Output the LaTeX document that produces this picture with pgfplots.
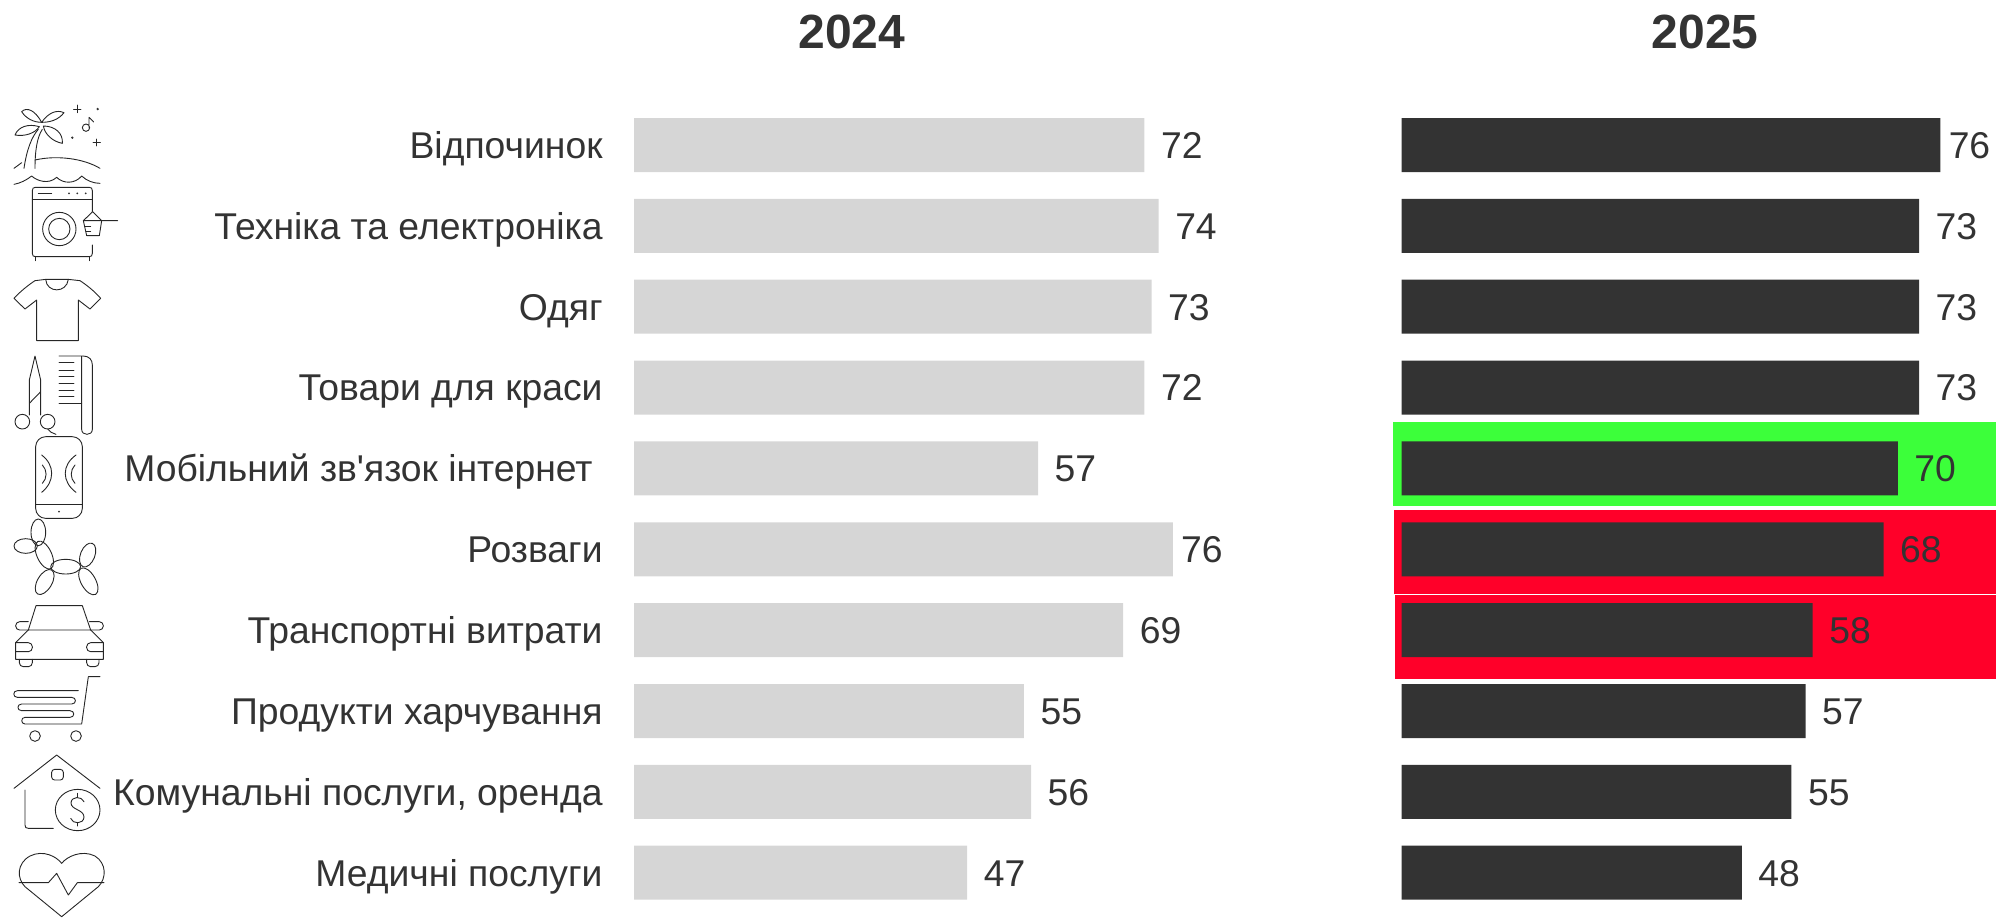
\documentclass[border=0pt]{standalone}
\usepackage{fontspec}
\setmainfont{Liberation Sans}
\newfontfamily\plainquote{Liberation Sans}
\usepackage{pgfplots}
\usepackage{pgfplotstable}
\pgfplotsset{compat=1.18}
\definecolor{ink}{HTML}{333333}
\definecolor{barA}{HTML}{D6D6D6}
\definecolor{hlgreen}{HTML}{3CFF3A}
\definecolor{hlred}{HTML}{FF0029}
\pgfplotstableread{
row y2024 y2025 dxa dxb
1 72 76 8.1 4
2 74 73 8.1 8.1
3 73 73 8.1 8.1
4 72 73 8.1 8.1
5 57 70 8.1 8.1
6 76 68 4 8.1
7 69 58 8.1 8.1
8 55 57 8.1 8.1
9 56 55 8.1 8.1
10 47 48 8.1 8.1
}\data
\pgfplotsset{
  base/.style={
    scale only axis, width=297.78pt, height=404.25pt,
    xmin=0, xmax=84, ymin=0.5, ymax=10.5, y dir=reverse,
    enlargelimits=false, clip=false,
    axis line style={draw=none}, tick style={draw=none}, major tick length=0pt,
    xtick=\empty,
    xbar, bar width=27pt,
    /pgf/number format/assume math mode=true,
    title style={font=\fontsize{24}{28}\selectfont\bfseries, text=ink, anchor=center, inner sep=0pt},
  },
}
\newcommand\balloon[6]{\draw (#1+#3,#2+#4) .. controls (#1+#3+.5523*#5,#2+#4+.5523*#6) and (#1+#5+.5523*#3,#2+#6+.5523*#4) .. (#1+#5,#2+#6) .. controls (#1+#5-.5523*#3,#2+#6-.5523*#4) and (#1-#3+.5523*#5,#2-#4+.5523*#6) .. (#1-#3,#2-#4) .. controls (#1-#3-.5523*#5,#2-#4-.5523*#6) and (#1-#5-.5523*#3,#2-#6-.5523*#4) .. (#1-#5,#2-#6) .. controls (#1-#5+.5523*#3,#2-#6+.5523*#4) and (#1+#3-.5523*#5,#2+#4-.5523*#6) .. (#1+#3,#2+#4) -- cycle;}
\begin{document}
\begin{tikzpicture}[line cap=round, line join=round]
\useasboundingbox (0,0) rectangle (998pt,-458.5pt);
\clip (0,0) rectangle (998pt,-458.5pt);
% highlights behind the 2025 bars
\fill[hlgreen] (696.5pt,-211pt) rectangle (998pt,-253pt);
\fill[hlred] (697pt,-255pt) rectangle (998pt,-296.8pt);
\fill[hlred] (697.5pt,-297.5pt) rectangle (998pt,-339.5pt);

\begin{axis}[base, at={(317pt,-456.55pt)}, anchor=south west,
  title={2024}, title style={at={(0.366,1.0746)}},
  ytick={1,...,10},
  yticklabels={Відпочинок,Техніка та електроніка,Одяг,Товари для краси,{Мобільний зв{\plainquote\char39}язок інтернет\hspace{5pt}\mbox{}},Розваги,Транспортні витрати,Продукти харчування,{Комунальні послуги, оренда},Медичні послуги},
  y tick label style={font=\fontsize{18.65}{22}\selectfont, text=ink, anchor=east, inner sep=0pt, xshift=-15.5pt, text height=13.3pt, text depth=0pt},
]
\addplot[draw=none, fill=barA, bar shift=0pt,
  nodes near coords,
  visualization depends on={\thisrow{dxa} \as \dx},
  every node near coord/.append style={font=\fontsize{18.65}{22}\selectfont, text=ink, anchor=west, inner sep=0pt, xshift=\dx pt, text height=13.3pt, text depth=0pt},
] table[x=y2024,y=row] {\data};
\end{axis}

\begin{axis}[base, at={(700.75pt,-456.55pt)}, anchor=south west,
  title={2025}, title style={at={(0.51,1.0746)}},
  ytick=\empty,
]
\addplot[draw=none, fill=ink, bar shift=0pt,
  nodes near coords,
  visualization depends on={\thisrow{dxb} \as \dx},
  every node near coord/.append style={font=\fontsize{18.65}{22}\selectfont, text=ink, anchor=west, inner sep=0pt, xshift=\dx pt, text height=13.3pt, text depth=0pt},
] table[x=y2025,y=row] {\data};
\end{axis}

% icons
\begin{scope}[shift={(0,-45pt)}, x=0.16667pt, y=-0.16667pt, draw=black!85, line width=0.45pt]
% palm
\draw (72,235) .. controls (80,180) and (95,140) .. (115,118);
\draw (105,235) .. controls (105,180) and (112,140) .. (127,118);
\draw (125,97) .. controls (105,60) and (80,50) .. (65,65) .. controls (78,85) and (100,97) .. (125,97);
\draw (125,97) .. controls (145,68) and (170,58) .. (192,68) .. controls (175,90) and (150,97) .. (125,97);
\draw (118,110) .. controls (85,100) and (55,110) .. (45,135) .. controls (75,140) and (105,130) .. (118,110);
\draw (130,108) .. controls (165,108) and (190,130) .. (187,160) .. controls (160,155) and (135,135) .. (130,108);
\draw (105,210) .. controls (170,195) and (250,205) .. (300,235);
\draw (42,235) -- (65,218);
\draw (42,283) .. controls (60,280) and (80,270) .. (95,258) .. controls (110,272) and (145,285) .. (170,262) .. controls (190,282) and (225,282) .. (245,258) .. controls (260,272) and (280,280) .. (300,280);
\draw (232,45) -- (232,68) (221,57) -- (243,57);
\draw (290,147) -- (290,168) (279,157) -- (301,157);
\fill[ink] (293,57) circle (4) (217,143) circle (4);
\draw (258,113) circle (11) (267,112) -- (267,82) -- (281,96);
% washer
\draw (277,365) -- (277,302) .. controls (277,295) and (274,292) .. (268,292) -- (106,292) .. controls (100,292) and (97,295) .. (97,302) -- (97,490) .. controls (97,497) and (100,500) .. (106,500) -- (268,500) .. controls (274,500) and (277,497) .. (277,490) -- (277,465);
\draw (97,328) -- (277,328) (115,310) -- (155,310);
\fill[ink] (207,310) circle (3) (232,310) circle (3) (257,310) circle (3);
\draw (178,417) circle (50) (178,417) circle (32);
\draw (105,500) -- (105,512) (268,500) -- (268,512);
\draw (250,392) -- (305,392) -- (298,437) -- (260,437) -- cycle;
\draw (250,392) -- (278,365) -- (305,392) (305,392) -- (353,392);
\draw (255,410) -- (272,410) (258,425) -- (272,425);
% t-shirt
\draw (137,568) -- (105,572) .. controls (85,585) and (60,605) .. (42,625) -- (75,657) -- (110,630) -- (110,752) -- (235,752) -- (235,630) -- (270,657) -- (302,625) .. controls (285,605) and (260,585) .. (240,572) -- (205,568);
\draw (137,568) .. controls (140,610) and (200,610) .. (205,568) (137,568) -- (205,568);
% scissors and comb
\draw (88,975) -- (88,870) -- (105,798) -- (122,870) -- (122,975);
\draw (88,940) -- (122,905);
\draw (67,995) circle (22) (143,995) circle (22);
\draw (143,1017) .. controls (148,1025) and (158,1030) .. (168,1033);
\draw (177,798) -- (250,798) .. controls (268,798) and (277,810) .. (277,825) -- (277,1018) .. controls (277,1038) and (245,1038) .. (245,1018) -- (245,800);
\draw (177,818) -- (222,818) (177,840) -- (222,840) (177,860) -- (222,860) (177,880) -- (222,880) (177,900) -- (222,900) (177,920) -- (222,920) (177,940) -- (245,940);
% phone
\draw[rounded corners=5pt] (107,1040) rectangle (247,1285);
\draw (107,1243) -- (247,1243);
\fill[ink] (177,1265) circle (3);
\draw (125,1095) .. controls (165,1125) and (165,1175) .. (125,1207);
\draw (127,1125) .. controls (142,1140) and (142,1165) .. (127,1180);
\draw (228,1095) .. controls (185,1125) and (185,1175) .. (228,1207);
\draw (225,1125) .. controls (210,1140) and (210,1165) .. (225,1180);
\end{scope}

\begin{scope}[shift={(0,-250pt)}, x=0.16667pt, y=-0.16667pt, draw=black!85, line width=0.45pt]
% balloon dog
\balloon{115}{97}{0}{40}{22}{0}
\balloon{77}{138}{35}{0}{0}{22}
\balloon{133}{165}{19}{41}{20}{-9}
\balloon{197}{200}{45}{0}{0}{22}
\balloon{263}{165}{14}{-35}{20}{8}
\balloon{134}{246}{21}{-36}{19}{11}
\balloon{265}{244}{22}{39}{19}{-11}
% car
\draw (85,390) -- (108,317) -- (247,317) -- (272,390) -- cycle;
\draw[rounded corners=2pt] (85,365) -- (47,365) -- (47,390) -- (85,390);
\draw[rounded corners=2pt] (268,365) -- (310,365) -- (310,390) -- (272,390);
\draw (85,390) -- (47,428) -- (47,478) -- (310,478) -- (310,428) -- (272,390);
\draw[rounded corners=2pt] (47,428) -- (97,428) -- (97,455) -- (47,455);
\draw[rounded corners=2pt] (310,428) -- (260,428) -- (260,455) -- (310,455);
\draw[rounded corners=2pt] (58,478) -- (58,500) -- (97,500) -- (97,478);
\draw[rounded corners=2pt] (260,478) -- (260,500) -- (297,500) -- (297,478);
% cart
\draw (300,530) -- (265,530) -- (245,672) -- (75,672) .. controls (62,672) and (62,652) .. (75,652) -- (210,652) .. controls (225,652) and (225,632) .. (210,632) -- (65,632) .. controls (50,632) and (50,612) .. (65,612) -- (215,612) .. controls (230,612) and (230,592) .. (215,592) -- (52,592) .. controls (38,592) and (38,572) .. (52,572) -- (235,572);
\draw (105,708) circle (16) (228,708) circle (16);
% house
\draw (42,865) -- (170,765) -- (300,865);
\draw[rounded corners=1.5pt] (155,808) rectangle (190,840);
\draw (75,870) -- (75,975) .. controls (75,982) and (78,985) .. (85,985) -- (160,985);
\draw (233,930) ellipse [x radius=67, y radius=62];
\draw (252,905) .. controls (245,888) and (215,888) .. (213,908) .. controls (212,930) and (253,928) .. (252,952) .. controls (250,973) and (218,973) .. (212,955);
\draw (232,880) -- (232,892) (232,970) -- (232,978);
% heart
\draw (185,1250) -- (75,1160) .. controls (50,1135) and (50,1090) .. (90,1068) .. controls (130,1048) and (170,1070) .. (185,1090) .. controls (200,1070) and (245,1048) .. (285,1068) .. controls (320,1090) and (320,1135) .. (295,1160) -- cycle;
\draw (57,1148) -- (145,1148) -- (170,1120) -- (205,1185) -- (232,1148) -- (312,1148);
\end{scope}
\end{tikzpicture}
\end{document}
